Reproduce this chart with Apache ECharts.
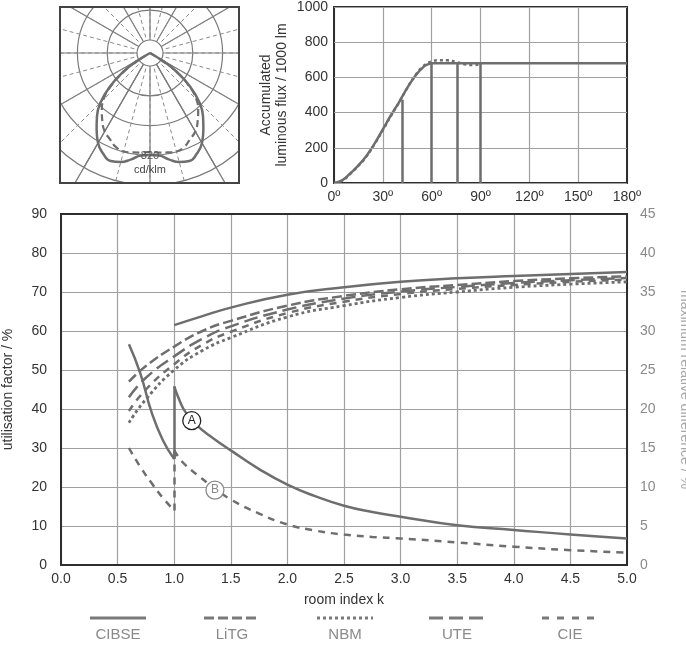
<!DOCTYPE html>
<html>
<head>
<meta charset="utf-8">
<script src="https://cdn.jsdelivr.net/npm/echarts@6/dist/echarts.min.js"></script>
<style>
  html, body { margin: 0; padding: 0; background: #fff; }
  #chart { width: 686px; height: 653px; }
</style>
</head>
<body>
<div id="chart"></div>
<script>
// --- polar diagram: intensity in cd/klm vs angle from nadir (deg), half curve, mirrored
var polarAngles = [0, 5, 10, 15, 20, 25, 30, 35, 40, 45, 50, 55, 58, 60];
var intensitySolid = [816, 824, 864, 904, 920, 888, 832, 745, 660, 560, 420, 255, 130, 0];
var intensityDashed = [792, 800, 808, 816, 800, 760, 725, 665, 600, 525, 405, 245, 125, 0];

// --- accumulated flux (lm / 1000 lm) vs angle
var fluxAngles = [0, 5, 10, 15, 20, 25, 30, 35, 40, 45, 50, 55, 58, 60, 65, 180];
var fluxSolid = [0, 15, 55, 100, 155, 225, 305, 385, 460, 540, 610, 660, 676, 680, 680, 680];
var fluxDotAngles = [0, 5, 10, 15, 20, 25, 30, 35, 40, 45, 50, 55, 60, 65, 70, 75, 80, 85, 90];
var fluxDotted = [0, 13, 52, 98, 152, 222, 300, 382, 458, 540, 612, 665, 690, 698, 697, 688, 675, 670, 676];
var barAngles = [42, 60, 76, 90];
var barTops = [473, 680, 680, 680];
var fluxTicks = ['0º', '30º', '60º', '90º', '120º', '150º', '180º'];

// --- utilisation factor (%) vs room index k
var kCibse = [1.0, 1.25, 1.5, 2.0, 2.5, 3.0, 3.5, 4.0, 4.5, 5.0];
var cibse = [61.5, 63.8, 66.0, 69.3, 71.2, 72.6, 73.5, 74.1, 74.6, 75.1];
var kUpper = [0.6, 0.75, 1.0, 1.25, 1.5, 2.0, 2.5, 3.0, 3.5, 4.0, 4.5, 5.0];
var litg = [47.0, 51.0, 56.0, 60.0, 62.6, 66.5, 69.0, 70.7, 71.8, 72.8, 73.5, 74.0];
var ute = [43.0, 48.0, 53.5, 58.0, 61.2, 65.5, 68.3, 70.1, 71.3, 72.3, 73.0, 73.6];
var cie = [39.5, 45.0, 51.5, 56.5, 59.8, 64.6, 67.5, 69.5, 70.8, 71.8, 72.6, 73.2];
var nbm = [36.5, 42.5, 50.0, 55.0, 58.3, 63.6, 66.5, 68.6, 70.0, 71.2, 72.0, 72.6];

// --- maximum relative difference (%), curves A and B
var kLeft = [0.6, 0.7, 0.8, 0.9, 1.0];
var kRight = [1.0, 1.05, 1.1, 1.2, 1.35, 1.5, 1.75, 2.0, 2.25, 2.5, 2.75, 3.0, 3.5, 4.0, 4.5, 5.0];
var diffALeft = [28.3, 24.6, 19.6, 16.0, 13.6];
var diffARight = [22.9, 21.0, 19.6, 17.9, 16.2, 14.7, 12.3, 10.3, 8.8, 7.6, 6.8, 6.2, 5.1, 4.5, 3.9, 3.4];
var diffBLeft = [15.0, 12.6, 10.5, 8.6, 7.0];
var diffBRight = [14.7, 13.6, 12.8, 11.6, 9.9, 8.4, 6.6, 5.2, 4.4, 3.9, 3.6, 3.4, 2.9, 2.35, 1.9, 1.6];
var markA = [1.155, 18.5];
var markB = [1.36, 9.6];

var legendNames = ['CIBSE', 'LiTG', 'NBM', 'UTE', 'CIE'];
var legendDash = [null, [10, 4], [3, 3], [14, 6], [7, 8]];
var legendCenters = [118, 232, 345, 457, 570];

var FONT = '"Liberation Sans", Arial, sans-serif';
var LINE = '#6e6e6e';
var GRID = '#a0a0a0';
var TRANSPARENT = 'rgba(0,0,0,0)';

function pts(xs, ys) {
  return xs.map(function (x, i) { return [x, ys[i]]; });
}

function mirrored(angles, vals) {
  var left = [];
  for (var i = angles.length - 1; i > 0; i--) left.push([vals[i], -angles[i]]);
  var right = angles.map(function (a, i) { return [vals[i], a]; });
  return left.concat(right);
}

var chart = echarts.init(document.getElementById('chart'));

var hidden = { show: false };
var polarCenter = [150, 53];

// spokes that must reach into the lower corners (±30º only)
var longSpokeColors = [];
for (var v = -180; v <= 180; v += 30) longSpokeColors.push(Math.abs(v) === 30 ? '#7a7a7a' : TRANSPARENT);

function angleAxis(idx, interval, splitLine) {
  return {
    polarIndex: idx, type: 'value', min: -180, max: 180, interval: interval,
    startAngle: 90, clockwise: true,
    axisLine: hidden, axisTick: hidden, axisLabel: hidden,
    splitLine: splitLine
  };
}
function radiusAxis(idx, max, splitLine) {
  return {
    polarIndex: idx, type: 'value', min: 0, max: max, interval: 1,
    axisLine: hidden, axisTick: hidden, axisLabel: hidden,
    splitLine: splitLine
  };
}

var option = {
  animation: false,
  textStyle: { fontFamily: FONT },
  polar: [
    { center: polarCenter, radius: [13, 132.2] },
    { center: polarCenter, radius: [13, 132.2] },
    { center: polarCenter, radius: [13, 152] },
    { center: polarCenter, radius: [0, 132.2] }
  ],
  angleAxis: [
    angleAxis(0, 30, { show: true, lineStyle: { color: '#7a7a7a', width: 1.2 } }),
    angleAxis(1, 15, { show: true, lineStyle: { color: '#8a8a8a', width: 1, type: [4, 3] } }),
    angleAxis(2, 30, { show: true, lineStyle: { color: longSpokeColors, width: 1.2 } }),
    angleAxis(3, 30, hidden)
  ],
  radiusAxis: [
    radiusAxis(0, 4, { show: true, lineStyle: { color: '#7a7a7a', width: 1.2 } }),
    radiusAxis(1, 4, hidden),
    radiusAxis(2, 4, hidden),
    { polarIndex: 3, type: 'value', min: 0, max: 1058, axisLine: hidden, axisTick: hidden, axisLabel: hidden, splitLine: hidden }
  ],
  grid: [
    { left: 334, top: 7, width: 293, height: 176, show: true, borderColor: '#2e2e2e', borderWidth: 2, z: 3,
      containLabel: false, outerBoundsMode: 'none' },
    { left: 61, top: 214, width: 566, height: 351, show: true, borderColor: '#2e2e2e', borderWidth: 2, z: 3,
      containLabel: false, outerBoundsMode: 'none' }
  ],
  xAxis: [
    {
      gridIndex: 0, type: 'value', min: 0, max: 180, interval: 30,
      axisLine: hidden, axisTick: hidden,
      axisLabel: { color: '#333', fontSize: 14, margin: 7,
        formatter: function (val) { return fluxTicks[Math.round(val / 30)]; } },
      splitLine: { lineStyle: { color: GRID, width: 1.2 } }
    },
    {
      gridIndex: 1, type: 'value', min: 0, max: 5, interval: 0.5,
      axisLine: hidden, axisTick: hidden,
      axisLabel: { color: '#333', fontSize: 14, margin: 7,
        formatter: function (val) { return val.toFixed(1); } },
      splitLine: { lineStyle: { color: GRID, width: 1.2 } },
      name: 'room index k', nameLocation: 'middle', nameGap: 28,
      nameTextStyle: { color: '#333', fontSize: 14 }
    }
  ],
  yAxis: [
    {
      gridIndex: 0, type: 'value', min: 0, max: 1000, interval: 200, z: 5,
      axisLine: hidden, axisTick: hidden,
      axisLabel: { color: '#333', fontSize: 14, margin: 6,
        formatter: function (val) { return String(val); } },
      splitLine: { lineStyle: { color: GRID, width: 1.2 } },
      name: 'Accumulated\nluminous flux / 1000 lm', nameLocation: 'middle', nameGap: 44,
      nameTextStyle: { color: '#333', fontSize: 14, lineHeight: 16 }
    },
    {
      gridIndex: 1, type: 'value', min: 0, max: 90, interval: 10,
      axisLine: hidden, axisTick: hidden,
      axisLabel: { color: '#333', fontSize: 14, margin: 14 },
      splitLine: { lineStyle: { color: GRID, width: 1.2 } },
      name: 'utilisation factor / %', nameLocation: 'middle', nameGap: 46,
      nameTextStyle: { color: '#333', fontSize: 14 }
    },
    {
      gridIndex: 1, type: 'value', position: 'right', min: 0, max: 45, interval: 5,
      axisLine: hidden, axisTick: hidden,
      axisLabel: { color: '#8a8a8a', fontSize: 14, margin: 13 },
      splitLine: hidden,
      name: 'maximum relative difference / %', nameLocation: 'middle', nameGap: 51, nameRotate: -90,
      nameTextStyle: { color: '#a8a8a8', fontSize: 14 }
    }
  ],
  series: [
    // polar diagram
    { type: 'line', coordinateSystem: 'polar', polarIndex: 3, data: mirrored(polarAngles, intensitySolid),
      smooth: true, showSymbol: false, lineStyle: { color: LINE, width: 2.5 } },
    { type: 'line', coordinateSystem: 'polar', polarIndex: 3, data: mirrored(polarAngles, intensityDashed),
      smooth: true, showSymbol: false, lineStyle: { color: LINE, width: 2.2, type: [7, 4] } },

    // accumulated flux
    { type: 'line', xAxisIndex: 0, yAxisIndex: 0, data: pts(fluxAngles, fluxSolid),
      smooth: true, showSymbol: false, lineStyle: { color: LINE, width: 2.5 },
      markLine: {
        symbol: 'none', silent: true, label: hidden,
        lineStyle: { type: 'solid', color: LINE, width: 2.5 },
        data: barAngles.map(function (a, i) { return [{ coord: [a, 0] }, { coord: [a, barTops[i]] }]; })
      } },
    { type: 'line', xAxisIndex: 0, yAxisIndex: 0, data: pts(fluxDotAngles, fluxDotted),
      smooth: true, showSymbol: false, lineStyle: { color: LINE, width: 2.5, type: [3, 3] } },

    // utilisation factors
    { name: 'CIBSE', type: 'line', xAxisIndex: 1, yAxisIndex: 1, data: pts(kCibse, cibse),
      smooth: true, showSymbol: false, lineStyle: { color: LINE, width: 2.5 } },
    { name: 'LiTG', type: 'line', xAxisIndex: 1, yAxisIndex: 1, data: pts(kUpper, litg),
      smooth: true, showSymbol: false, lineStyle: { color: LINE, width: 2.5, type: [10, 4] } },
    { name: 'UTE', type: 'line', xAxisIndex: 1, yAxisIndex: 1, data: pts(kUpper, ute),
      smooth: true, showSymbol: false, lineStyle: { color: LINE, width: 2.5, type: [14, 6] } },
    { name: 'CIE', type: 'line', xAxisIndex: 1, yAxisIndex: 1, data: pts(kUpper, cie),
      smooth: true, showSymbol: false, lineStyle: { color: LINE, width: 2.5, type: [7, 6] } },
    { name: 'NBM', type: 'line', xAxisIndex: 1, yAxisIndex: 1, data: pts(kUpper, nbm),
      smooth: true, showSymbol: false, lineStyle: { color: LINE, width: 2.8, type: [3, 3] } },

    // difference curve A (solid)
    { type: 'line', xAxisIndex: 1, yAxisIndex: 2, data: pts(kLeft, diffALeft),
      smooth: true, showSymbol: false, lineStyle: { color: LINE, width: 2.5 },
      markLine: {
        symbol: 'none', silent: true, label: hidden,
        lineStyle: { type: 'solid', color: LINE, width: 2.5 },
        data: [[{ coord: [1, diffALeft[diffALeft.length - 1]] }, { coord: [1, diffARight[0]] }]]
      } },
    { type: 'line', xAxisIndex: 1, yAxisIndex: 2, data: pts(kRight, diffARight),
      smooth: 0.5, showSymbol: false, lineStyle: { color: LINE, width: 2.5 },
      markPoint: {
        symbol: 'circle', symbolSize: 18, silent: true,
        itemStyle: { color: '#fff', borderColor: '#222', borderWidth: 1.3 },
        label: { show: true, formatter: 'A', color: '#222', fontSize: 12 },
        data: [{ coord: markA }]
      } },

    // difference curve B (dashed)
    { type: 'line', xAxisIndex: 1, yAxisIndex: 2, data: pts(kLeft, diffBLeft),
      smooth: true, showSymbol: false, lineStyle: { color: LINE, width: 2.5, type: [7, 6] },
      markLine: {
        symbol: 'none', silent: true, label: hidden,
        lineStyle: { type: [7, 6], color: LINE, width: 2.5 },
        data: [[{ coord: [1, diffBLeft[diffBLeft.length - 1]] }, { coord: [1, diffBRight[0]] }]]
      } },
    { type: 'line', xAxisIndex: 1, yAxisIndex: 2, data: pts(kRight, diffBRight),
      smooth: 0.5, showSymbol: false, lineStyle: { color: LINE, width: 2.5, type: [7, 6] },
      markPoint: {
        symbol: 'circle', symbolSize: 18, silent: true,
        itemStyle: { color: '#fff', borderColor: '#8a8a8a', borderWidth: 1.3 },
        label: { show: true, formatter: 'B', color: '#8a8a8a', fontSize: 12 },
        data: [{ coord: markB }]
      } }
  ],
  graphic: []
};

// white covers clip the polar grid to its square frame
var covers = [
  { x: 0, y: 0, width: 60, height: 205 },
  { x: 0, y: 0, width: 288, height: 6 },
  { x: 240, y: 0, width: 48, height: 205 },
  { x: 0, y: 184, width: 288, height: 22 }
];
covers.forEach(function (r) {
  option.graphic.push({ type: 'rect', z: 1, silent: true, shape: r, style: { fill: '#fff' } });
});
option.graphic.push({ type: 'rect', z: 4, silent: true,
  shape: { x: 60, y: 7, width: 179, height: 176 },
  style: { fill: 'none', stroke: '#444', lineWidth: 2 } });
option.graphic.push({ type: 'text', z: 4, silent: true, x: 150, y: 150,
  style: { text: '820', fill: '#555', font: '11px ' + FONT, textAlign: 'center' } });
option.graphic.push({ type: 'text', z: 4, silent: true, x: 150, y: 164,
  style: { text: 'cd/klm', fill: '#444', font: '11px ' + FONT, textAlign: 'center' } });

// legend drawn underneath the main chart: line sample above, name below
legendNames.forEach(function (name, i) {
  var c = legendCenters[i];
  option.graphic.push({ type: 'line', silent: true,
    shape: { x1: c - 28, y1: 618, x2: c + 28, y2: 618 },
    style: { stroke: '#7a7a7a', lineWidth: 3, lineDash: legendDash[i] } });
  option.graphic.push({ type: 'text', silent: true, x: c, y: 627,
    style: { text: name, fill: '#8a8a8a', font: '15px ' + FONT, textAlign: 'center' } });
});

chart.setOption(option);
</script>
</body>
</html>
